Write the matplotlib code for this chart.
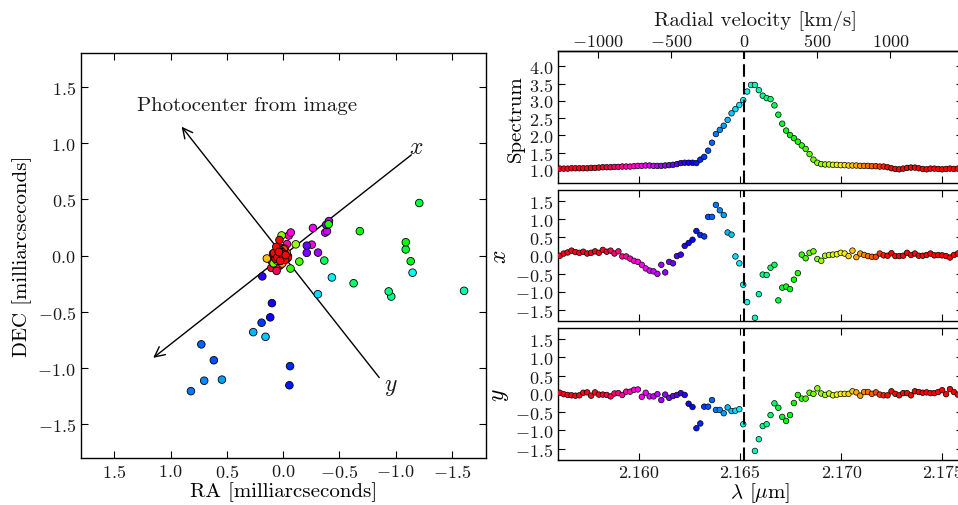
import numpy as np
import matplotlib
matplotlib.use('Agg')
import matplotlib.pyplot as plt
from matplotlib.ticker import FormatStrFormatter, FixedLocator

# ---------------- data ----------------
# uniform spectral channels (micron)
LAM_FIRST = 2.156093
LAM_LAST = 2.175767
N_CHAN = 103
wavelength = np.linspace(LAM_FIRST, LAM_LAST, N_CHAN)

spectrum = [1.04, 1.04, 1.04, 1.05, 1.05, 1.05, 1.05, 1.05, 1.06, 1.06,
            1.07, 1.08, 1.08, 1.08, 1.09, 1.09, 1.10, 1.10, 1.10, 1.11,
            1.12, 1.12, 1.13, 1.13, 1.12, 1.12, 1.12, 1.13, 1.14, 1.15,
            1.17, 1.20, 1.21, 1.21, 1.21, 1.20,
            1.30, 1.38, 1.56, 1.79, 2.04, 2.16, 2.28, 2.45, 2.64, 2.76,
            2.88, 3.02, 3.27, 3.46, 3.46, 3.31, 3.15, 3.08, 3.05, 2.87,
            2.60, 2.34, 2.14, 2.01, 1.92, 1.82, 1.71, 1.61, 1.46, 1.30,
            1.21, 1.17,
            1.16, 1.16, 1.15, 1.15, 1.14, 1.14, 1.13, 1.13, 1.13, 1.12,
            1.12, 1.12, 1.11, 1.11, 1.10, 1.10, 1.08, 1.05, 1.03, 1.02,
            1.04, 1.06, 1.07, 1.07, 1.05, 1.03, 1.02, 1.04, 1.04, 1.03,
            1.02, 1.03, 1.04, 1.03, 1.04]

x_offset = [-0.01, 0.05, 0.08, 0.13, 0.09, 0.07, 0.10, 0.05, 0.07, 0.11,
            0.07, 0.15, 0.10, 0.13, 0.05, 0.11, -0.03, -0.03, -0.09, -0.15,
            -0.18, -0.26, -0.36, -0.42, -0.44, -0.51, -0.26, -0.47, -0.18, -0.22,
            -0.02, 0.02, 0.26, 0.34, 0.43, 0.67, 0.56, 0.52, 1.06, 1.06,
            1.39, 1.24, 1.11, 0.63, 0.57, -0.03, -0.22, -0.81,
            -1.29, -2.20, -1.72, -1.07, -0.53, -0.54, -0.34, -0.26, -1.24, -0.89,
            -0.86, -0.93, -0.67, -0.49, 0.02, -0.08, 0.07, 0.11, -0.10, -0.15,
            -0.01, 0.01, 0.02, 0.03, 0.07, 0.05, -0.02, 0.13, -0.05, 0.05,
            0.01, -0.02, -0.04, -0.04, 0.05, 0.00, -0.01, 0.06, -0.02, -0.02,
            -0.01, 0.07, 0.01, 0.05, -0.01, -0.01, 0.01, 0.05, 0.00, 0.01,
            0.00, -0.02, -0.06, 0.01, 0.05]

y_offset = [0.03, -0.01, -0.03, -0.04, -0.05, -0.04, 0.03, 0.04, -0.05, 0.04,
            -0.02, -0.02, -0.03, -0.07, 0.01, 0.02, -0.03, 0.06, 0.06, 0.11,
            0.12, -0.08, 0.03, -0.07, -0.07, -0.01, -0.17, -0.02, -0.11, -0.06,
            -0.03, 0.02, -0.03, -0.27, -0.36, -0.94, -0.81, -0.35, -0.35, -0.17,
            -0.44, -0.44, -0.53, -0.37, -0.47, -0.46, -0.42, -0.83,
            -2.00, -2.30, -1.56, -1.24, -0.88, -0.83, -0.58, -0.26, -0.38, -0.63,
            -0.74, -0.58, -0.25, -0.03, -0.13, -0.13, 0.03, 0.00, 0.15, 0.01,
            -0.03, 0.01, -0.04, -0.02, 0.00, 0.00, 0.00, 0.07, 0.04, -0.05,
            0.05, 0.05, 0.00, 0.04, -0.02, -0.04, -0.04, 0.07, 0.00, -0.04,
            0.02, 0.02, -0.04, 0.07, 0.05, 0.03, 0.04, 0.02, 0.02, 0.05,
            0.10, -0.01, 0.13, 0.05, -0.02]

LAMBDA_REF = 2.16521        # micron, zero velocity
C_KMS = 299792.458
ROT_DEG = 38.2              # rotation of (x, y) frame on the sky
VEL_COLOR_RANGE = (-1000.0, 1000.0)

lam_ticks = [2.160, 2.165, 2.170, 2.175]
vel_ticks = [-1000, -500, 0, 500, 1000]
sky_ticks = [-1.5, -1.0, -0.5, 0.0, 0.5, 1.0, 1.5]
spec_ticks = [1.0, 1.5, 2.0, 2.5, 3.0, 3.5, 4.0]
off_ticks = [-1.5, -1.0, -0.5, 0.0, 0.5, 1.0, 1.5]

# ---------------- style ----------------
plt.rcParams.update({
    'font.family': 'serif',
    'font.serif': ['cmr10'],
    'mathtext.fontset': 'cm',
    'axes.formatter.use_mathtext': True,
    'axes.unicode_minus': True,
    'xtick.direction': 'in',
    'ytick.direction': 'in',
    'xtick.major.size': 5,
    'ytick.major.size': 5,
    'xtick.major.width': 0.8,
    'ytick.major.width': 0.8,
    'axes.linewidth': 1.0,
    'xtick.labelsize': 13,
    'ytick.labelsize': 13,
    'text.color': '#1a1a1a',
    'xtick.labelcolor': '#1a1a1a',
    'ytick.labelcolor': '#1a1a1a',
})

FS = 15
lam = np.asarray(wavelength)
xo = np.asarray(x_offset)
yo = np.asarray(y_offset)
vel = C_KMS * (lam - LAMBDA_REF) / LAMBDA_REF
VMIN, VMAX = VEL_COLOR_RANGE
t = np.clip((VMAX - vel) / (VMAX - VMIN), 0, 1)
cols = plt.cm.hsv(t)

th = np.deg2rad(ROT_DEG)
ra = xo * np.cos(th) + yo * np.sin(th)
dec = -xo * np.sin(th) + yo * np.cos(th)

W, H = 958, 506
fig = plt.figure(figsize=(W / 100, H / 100), dpi=100)

# ---------------- left panel ----------------
axl = fig.add_axes([80.7 / W, (H - 459) / H, 405 / W, 404.7 / H])
axl.set_xlim(1.8, -1.8)
axl.set_ylim(-1.8, 1.8)
axl.set_xticks(sky_ticks)
axl.set_yticks(sky_ticks)
axl.tick_params(top=True, right=True)

ex = np.array([np.cos(th), -np.sin(th)])
ey = np.array([np.sin(th), np.cos(th)])
axl.annotate('', xy=tuple(1.47 * ex), xytext=tuple(-1.45 * ex),
             arrowprops=dict(arrowstyle='->', lw=1.0, color='k', mutation_scale=18,
                             shrinkA=0, shrinkB=0))
axl.annotate('', xy=tuple(1.46 * ey), xytext=tuple(-1.38 * ey),
             arrowprops=dict(arrowstyle='->', lw=1.0, color='k', mutation_scale=18,
                             shrinkA=0, shrinkB=0))
axl.scatter(ra, dec, c=cols, s=30, edgecolors='k', linewidths=0.6, zorder=3)
axl.text(1.30, 1.30, 'Photocenter from image', fontsize=FS, ha='left', va='baseline')
axl.text(-1.18, 0.97, '$x$', fontsize=FS + 2, ha='center', va='center')
axl.text(-0.96, -1.16, '$y$', fontsize=FS + 2, ha='center', va='center')
axl.set_xlabel('RA [milliarcseconds]', fontsize=FS, labelpad=1)
axl.set_ylabel('DEC [milliarcseconds]', fontsize=FS, labelpad=4)

# ---------------- right panels ----------------
RL = 558 / W
RW = (962.5 - 558) / W
axs = fig.add_axes([RL, (H - 184.3) / H, RW, 132 / H])
axx = fig.add_axes([RL, (H - 321.7) / H, RW, 130.7 / H])
axy = fig.add_axes([RL, (H - 460.7) / H, RW, 131.7 / H])

for ax in (axs, axx, axy):
    ax.set_xlim(2.156, 2.176)
    ax.xaxis.set_major_locator(FixedLocator(lam_ticks))
    ax.xaxis.set_major_formatter(FormatStrFormatter('%.3f'))
    ax.tick_params(top=True, right=True)
    ax.axvline(LAMBDA_REF, color='k', lw=1.5, ls=(0, (6, 2.5)), zorder=4)

axs.scatter(lam, spectrum, c=cols, s=16, edgecolors='k', linewidths=0.5, zorder=3)
axx.scatter(lam, xo, c=cols, s=16, edgecolors='k', linewidths=0.5, zorder=3)
axy.scatter(lam, yo, c=cols, s=16, edgecolors='k', linewidths=0.5, zorder=3)

axs.set_ylim(0.615, 4.434)
axs.set_yticks(spec_ticks)
axx.set_ylim(-1.8, 1.8)
axx.set_yticks(off_ticks)
axy.set_ylim(-1.8, 1.8)
axy.set_yticks(off_ticks)

axs.tick_params(top=False, labelbottom=False)
axx.tick_params(labelbottom=False)

axs.set_ylabel('Spectrum', fontsize=FS, labelpad=3)
axx.set_ylabel('$x$', fontsize=FS + 2, labelpad=3)
axy.set_ylabel('$y$', fontsize=FS + 2, labelpad=3)
axy.set_xlabel(r'$\lambda$ [$\mu$m]', fontsize=FS, labelpad=0)


def lam2v(l):
    return C_KMS * (np.asarray(l) - LAMBDA_REF) / LAMBDA_REF


def v2lam(v):
    return LAMBDA_REF * (1 + np.asarray(v) / C_KMS)


sec = axs.secondary_xaxis('top', functions=(lam2v, v2lam))
sec.set_xticks(vel_ticks)
sec.tick_params(direction='in', length=5, width=0.8, labelsize=13, pad=1.5)
# axis title for the velocity scale, centred over the right panels
fig.text(RL + RW * (0.5 - 4.5 / 404.5), 1 - 21 / H, 'Radial velocity [km/s]',
         fontsize=FS, ha='center', va='center')

fig.savefig('out.png', dpi=100)
